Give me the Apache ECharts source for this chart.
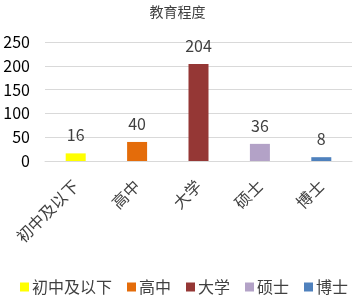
<!DOCTYPE html>
<html>
<head>
<meta charset="utf-8">
<script src="https://cdn.jsdelivr.net/npm/echarts@6/dist/echarts.min.js"></script>
<style>
html, body { margin: 0; padding: 0; background: #fff; }
#main { width: 355px; height: 296px; }
</style>
</head>
<body>
<div id="main"></div>
<script>
var categories = ['初中及以下', '高中', '大学', '硕士', '博士'];
var values = [16, 40, 204, 36, 8];
var colors = ['#ffff00', '#e46c0a', '#953735', '#b3a2c7', '#4f81bd'];
var yTicks = { min: 0, max: 250, interval: 50 };

var myChart = echarts.init(document.getElementById('main'));

var cjk = '"Noto Sans CJK SC", sans-serif';

// one series per category so the legend shows every level
var series = categories.map(function (name, i) {
    var data = categories.map(function (c, j) { return j === i ? values[i] : '-'; });
    return {
        name: name,
        type: 'bar',
        barWidth: 20,
        barGap: '-100%',
        itemStyle: { color: colors[i] },
        label: {
            show: true,
            position: 'top',
            distance: 10,
            color: '#404040',
            fontSize: 16,
            fontFamily: cjk
        },
        data: data
    };
});

var option = {
    animation: false,
    title: {
        text: '教育程度',
        left: 'center',
        top: 0,
        textStyle: { fontSize: 14, fontWeight: 'normal', color: '#404040', fontFamily: cjk }
    },
    legend: {
        left: 15,
        top: 274,
        icon: 'rect',
        itemWidth: 9,
        itemHeight: 9,
        itemGap: 15,
        textStyle: { fontSize: 16, color: '#404040', fontFamily: cjk, padding: [0, 0, 0, -2] },
        data: categories
    },
    grid: { left: 45, right: 3, top: 42, bottom: 135 },
    xAxis: {
        type: 'category',
        data: categories,
        axisLine: { lineStyle: { color: '#d9d9d9' } },
        axisTick: { show: false },
        axisLabel: { rotate: 45, fontSize: 16, color: '#404040', fontFamily: cjk, margin: 22, interval: 0 }
    },
    yAxis: {
        type: 'value',
        min: yTicks.min,
        max: yTicks.max,
        interval: yTicks.interval,
        axisLabel: { fontSize: 16, color: '#000', fontFamily: cjk, margin: 15 },
        splitLine: { lineStyle: { color: '#d9d9d9' } }
    },
    series: series
};

myChart.setOption(option);
</script>
</body>
</html>
